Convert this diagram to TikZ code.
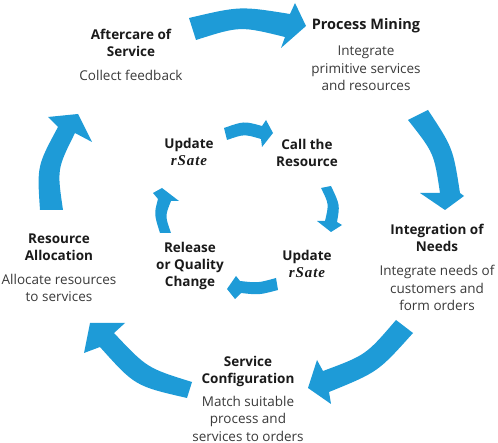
\documentclass[tikz,border=0pt]{standalone}
\usepackage{fontspec}
\setmainfont{Open Sans}
\newfontfamily\statefont[LetterSpace=6]{Liberation Serif}
\definecolor{arrowblue}{HTML}{1E9BD7}
\definecolor{titlecol}{HTML}{1A1A1A}
\definecolor{desccol}{HTML}{3A3A3A}
\newcommand{\rstate}{{\statefont\fontsize{15}{17}\selectfont\bfseries\itshape rSate}}
\begin{document}
\begin{tikzpicture}[x=1pt,y=-1pt,
  title/.style={font=\fontsize{13.5}{17}\selectfont\bfseries, text=titlecol, align=center, inner sep=0pt, anchor=base},
  desc/.style={font=\fontsize{13.5}{17.5}\selectfont, text=desccol, align=center, inner sep=0pt, anchor=base},
  blue arrow/.style={fill=arrowblue, draw=none}]
\useasboundingbox (0,0) rectangle (498,443);
% outer ring
\fill[blue arrow] (189,18) .. controls (240,6) .. (290,14) -- (295,3) -- (306,26) -- (281,48) -- (285,37) .. controls (240,26) .. (196,40) -- cycle;
\fill[blue arrow] (428,110) .. controls (453,148) .. (460,193) -- (464,196) -- (445,210) -- (420,193) -- (440,193) .. controls (434,153) .. (408,120) -- cycle;
\fill[blue arrow] (413,333) .. controls (378,372) .. (329,392) -- (331,404) -- (308,388) -- (317,360) -- (323,371) .. controls (366,355) .. (396,320) -- cycle;
\fill[blue arrow] (187,398) .. controls (135,386) .. (100,347) -- (84,353) -- (90,323) -- (125,323) -- (114,333) .. controls (147,368) .. (192,382) -- cycle;
\fill[blue arrow] (40,210) .. controls (37,166) .. (58,127) -- (48,117) -- (78,114) -- (92,142) -- (75,133) .. controls (57,169) .. (63,210) -- cycle;
% inner ring
\fill[blue arrow] (224,128) .. controls (244,121) .. (262,126) -- (266,120) -- (273,133) -- (262,147) -- (261,139) .. controls (244,134) .. (227,140) -- cycle;
\fill[blue arrow] (331,186) .. controls (340,205) .. (337,222) -- (342,225) -- (331,232) -- (317,221) -- (325,221) .. controls (329,204) .. (321,188) -- cycle;
\fill[blue arrow] (278,290) .. controls (259,295) .. (241,293) -- (235,299) -- (227,289) -- (236,276) -- (240,281) .. controls (258,283) .. (276,278) -- cycle;
\fill[blue arrow] (160,233) .. controls (154,214) .. (158,199) -- (153,193) -- (162,188) -- (179,201) -- (171,201) .. controls (165,216) .. (171,233) -- cycle;
% outer labels (anchored at the baseline of the last line)
\node[title] (aft) at (131,57) {Aftercare of\\Service};
\node[desc] (aftd) at (131,81) {Collect feedback};
\node[title, font=\fontsize{14.5}{17}\selectfont\bfseries] (pm) at (366,30) {Process Mining};
\node[desc] (pmd) at (366,91) {Integrate\\primitive services\\and resources};
\node[title] (ion) at (437,252) {Integration of\\Needs};
\node[desc] (iond) at (437,311) {Integrate needs of\\customers and\\form orders};
\node[title] (sc) at (248,384) {Service\\Configuration};
\node[desc] (scd) at (248,441) {Match suitable\\process and\\services to orders};
\node[title] (ra) at (59,261) {Resource\\Allocation};
\node[desc] (rad) at (59,302) {Allocate resources\\to services};
% inner labels
\node[title] (u1) at (189,166) {Update\\\rstate};
\node[title] (call) at (307,167) {Call the\\Resource};
\node[title] (u2) at (307,278) {Update\\\rstate};
\node[title] (rel) at (190,287) {Release\\or Quality\\Change};
\end{tikzpicture}
\end{document}
